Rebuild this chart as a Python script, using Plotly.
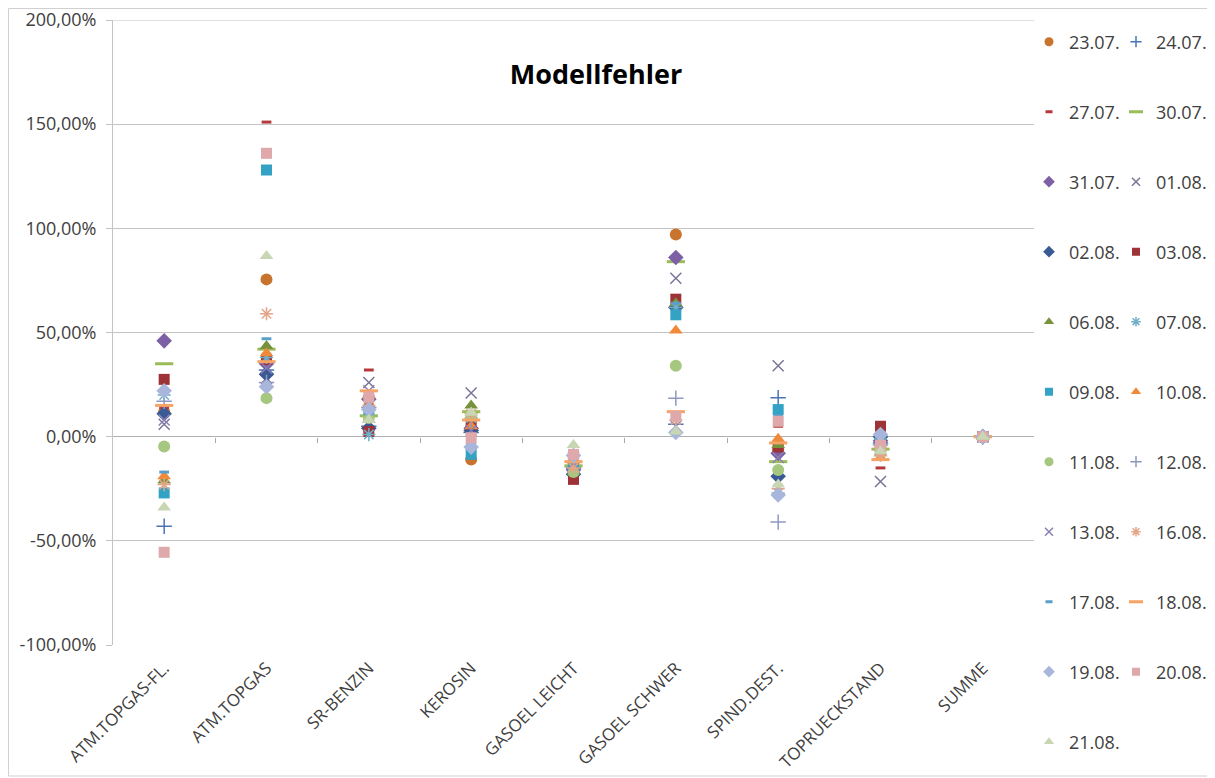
import plotly.graph_objects as go

categories = ["ATM.TOPGAS-FL.", "ATM.TOPGAS", "SR-BENZIN", "KEROSIN", "GASOEL LEICHT",
              "GASOEL SCHWER", "SPIND.DEST.", "TOPRUECKSTAND", "SUMME"]

# values in percent, one per category
s_2307 = [12, 75.5, 14, -11, -13, 97, -6, -5, 0]
s_2407 = [-43, 32, 5, 2, -15, 6, 18.7, -3, 0]
s_2707 = [14, 151, 32, 7, -12, 60, 5, -15, 0]
s_3007 = [35, 42, 10, 12, -14, 84, -12, -6, 0]
s_3107 = [46, 35, 18, 4, -16, 86, -8, -2, 0]
s_0108 = [6, 28, 26, 21, -10, 76, 34, -21.5, 0]
s_0208 = [11, 30, 4, 3, -18, 62, -19, 0, 0]
s_0308 = [27.5, 37, 2.5, 6, -20.5, 66, -5, 5, 0]
s_0608 = [-21, 43.5, 8, 15, -17, 64, -4, -8, 0]
s_0708 = [20, 38, 1, 9, -14, 62, -27, -1, 0]
s_0908 = [-27, 128, 12, -8.5, -16, 58.5, 13, -2, 0]
s_1008 = [-19, 40, 20, 5, -11, 51, -1, -10, 0]
s_1108 = [-4.7, 18.5, 9, 10, -17, 34, -16, -7, 0]
s_1208 = [17, 26, 14, 8, -12, 18.5, -41, -4, 0]
s_1308 = [8, 33, 22, 3, -13, 5, -10, -6, 0]
s_1608 = [-23, 59, 15, 11, -15, 8, -25, -9, 0]
s_1708 = [-17, 47, 11, -3, -10, 64, 10, -3, 0]
s_1808 = [15, 36, 22, 8, -12, 12, -3, -11, 0]
s_1908 = [22, 24, 13, -5, -9, 2, -28, 1, 0]
s_2008 = [-55.5, 136, 19, -0.5, -8.5, 9.8, 7.4, -4, 0]
s_2108 = [-34, 86.7, 8, 11.5, -4, 2.5, -23, -7, 0]

series_names = ["23.07.", "24.07.", "27.07.", "30.07.", "31.07.", "01.08.", "02.08.",
                "03.08.", "06.08.", "07.08.", "09.08.", "10.08.", "11.08.", "12.08.",
                "13.08.", "16.08.", "17.08.", "18.08.", "19.08.", "20.08.", "21.08."]
series_values = [s_2307, s_2407, s_2707, s_3007, s_3107, s_0108, s_0208, s_0308, s_0608,
                 s_0708, s_0908, s_1008, s_1108, s_1208, s_1308, s_1608, s_1708, s_1808,
                 s_1908, s_2008, s_2108]

y_tick_vals = [-100, -50, 0, 50, 100, 150, 200]
y_tick_text = ["-100,00%", "-50,00%", "0,00%", "50,00%", "100,00%", "150,00%", "200,00%"]

# style: (symbol, color, size, line-only?)
styles = [
    ("circle", "#C8742F", 12, False),
    ("cross-thin", "#4A74B4", 11, True),
    ("line-ew", "#B5393A", 7, True),
    ("line-ew", "#9BBB59", 13, True),
    ("diamond", "#7D5FA6", 12, False),
    ("x-thin", "#7A7598", 11, True),
    ("diamond", "#3A5A95", 12, False),
    ("square", "#9E3337", 11, False),
    ("triangle-up", "#76923C", 12, False),
    ("asterisk", "#6FB0C8", 11, True),
    ("square", "#34A2C4", 11, False),
    ("triangle-up", "#F08A3A", 12, False),
    ("circle", "#A5C77F", 12, False),
    ("cross-thin", "#8E99C0", 11, True),
    ("x-thin", "#8A80B4", 11, True),
    ("asterisk", "#E5A488", 11, True),
    ("line-ew", "#5A9FC9", 7, True),
    ("line-ew", "#F6A465", 13, True),
    ("diamond", "#A9B6DB", 12, False),
    ("square", "#DFA8AB", 11, False),
    ("triangle-up", "#C8D6B4", 12, False),
]

FONT = "Open Sans"
TXT = "#404040"

# page body has an 8px margin; figure coordinates = screen coordinates - 8
OFF = 8
W, H = 1215 - OFF, 778 - OFF
L, T = 113 - OFF, 20 - OFF
PR, PB = 1034 - OFF, 645 - OFF
R, B = W - PR, H - PB
pw = W - L - R
ph = H - T - B


def px_x(p):
    return (p - OFF - L) / pw


def px_y(p):
    return (H - B - (p - OFF)) / ph


def make_marker(sym, col, size, lineonly):
    if lineonly:
        lw = 3 if sym == "line-ew" else 1.5
        return dict(symbol=sym, size=size, color=col, line=dict(color=col, width=lw))
    return dict(symbol=sym, size=size, color=col, line=dict(width=0))


fig = go.Figure()
for i, (name, vals) in enumerate(zip(series_names, series_values)):
    sym, col, size, lineonly = styles[i]
    fig.add_trace(go.Scatter(
        x=categories, y=vals, mode="markers", name=name,
        marker=make_marker(sym, col, size, lineonly),
        legendgroup=name, showlegend=False,
    ))

# legend entries (smaller symbols, as in the reference legend)
for i, name in enumerate(series_names):
    sym, col, size, lineonly = styles[i]
    lid = "legend" if i == 0 else f"legend{i + 1}"
    fig.add_trace(go.Scatter(
        x=[None], y=[None], mode="markers", name=name,
        marker=make_marker(sym, col, max(size - 3, 5), lineonly),
        legendgroup=name, showlegend=True, legend=lid, hoverinfo="skip",
    ))

# tick marks on the zero line at category boundaries (secondary axis)
fig.add_trace(go.Scatter(x=[0], y=[None], xaxis="x2", showlegend=False, hoverinfo="skip"))

legends = {}
for i in range(len(series_names)):
    row, colm = divmod(i, 2)
    lid = "legend" if i == 0 else f"legend{i + 1}"
    lx = 1029 if colm == 0 else 1116
    ly = 42 + 70 * row
    legends[lid] = dict(
        x=px_x(lx), y=px_y(ly), xanchor="left", yanchor="middle",
        font=dict(family=FONT, size=18, color=TXT),
        bgcolor="rgba(0,0,0,0)", borderwidth=0, itemwidth=30,
    )

fig.update_layout(
    width=W, height=H,
    margin=dict(l=L, r=R, t=T, b=B, autoexpand=False),
    paper_bgcolor="white", plot_bgcolor="white",
    font=dict(family=FONT, size=15, color=TXT),
    title=dict(text="<b>Modellfehler</b>", x=(596 - OFF) / W, xref="container",
               xanchor="center", y=1 - (75 - OFF) / H, yref="container", yanchor="middle",
               font=dict(family=FONT, size=27, color="#000000")),
    showlegend=True,
    xaxis=dict(type="category", categoryarray=categories, range=[-0.5, 8.5],
               showgrid=False, showline=False, ticks="", tickangle=-45,
               ticklabelstandoff=9,
               tickfont=dict(family=FONT, size=17, color=TXT), zeroline=False),
    xaxis2=dict(overlaying="x", anchor="free", position=1 / 3, range=[-0.5, 8.5],
                tickvals=[0.5, 1.5, 2.5, 3.5, 4.5, 5.5, 6.5, 7.5], ticks="outside",
                ticklen=5, tickcolor="#A6A6A6", showticklabels=False, showgrid=False,
                showline=False, zeroline=False, side="bottom"),
    yaxis=dict(range=[-100, 200], tickvals=y_tick_vals, ticktext=y_tick_text,
               showgrid=True, gridcolor="#C4C4C4", gridwidth=1,
               zeroline=True, zerolinecolor="#B0B0B0", zerolinewidth=1,
               showline=True, linecolor="#C4C4C4", linewidth=1,
               ticks="outside", ticklen=6, tickcolor="#C4C4C4", ticklabelstandoff=6,
               ticklabeloverflow="allow",
               tickfont=dict(family=FONT, size=18, color=TXT)),
    shapes=[
        dict(type="rect", xref="paper", yref="paper",
             x0=px_x(8.5), x1=px_x(1213), y0=px_y(776), y1=px_y(8.5),
             line=dict(color="#D0D0D0", width=1), fillcolor="rgba(0,0,0,0)", layer="below"),
        dict(type="line", xref="paper", yref="y", x0=0, x1=1, y0=200, y1=200,
             line=dict(color="#C4C4C4", width=1), layer="below"),
    ],
    **legends,
)

fig.write_html("out.html")
